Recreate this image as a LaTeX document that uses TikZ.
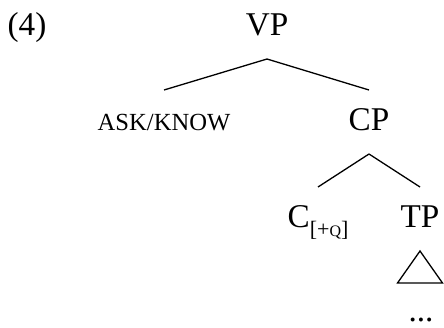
\documentclass[tikz,border=0pt]{standalone}
\usepackage{fontspec}
\setmainfont{Liberation Serif}
\newcommand{\fakesc}[1]{{\fontsize{12.3pt}{14pt}\selectfont #1}}
\begin{document}
\begin{tikzpicture}[x=0.5pt,y=-0.5pt,
  treenode/.style={inner sep=0pt,outer sep=0pt,text height=20pt,text depth=12pt,font=\fontsize{16.6pt}{20pt}\selectfont},
  branch/.style={line width=0.65pt}]
\useasboundingbox (0,0) rectangle (444,327);
\node[anchor=base,inner sep=0pt,font=\fontsize{16.6pt}{20pt}\selectfont] (ex) at (27,35) {(4)};
\node[treenode,anchor=base] (VP) at (267,35) {VP};
\node[treenode,anchor=base] (ask) at (164,130) {\fakesc{ASK/KNOW}};
\node[treenode,anchor=base] (CP) at (369,130) {CP};
\node[treenode,anchor=base] (C) at (318,227) {C\raisebox{-0.3em}{\fontsize{11pt}{12pt}\selectfont[+{\fontsize{8pt}{9pt}\selectfont Q}]}};
\node[treenode,anchor=base] (TP) at (420,227) {TP};
\node[anchor=base,inner sep=0pt,font=\fontsize{16.6pt}{20pt}\selectfont] (dots) at (421,321) {...};
\draw[branch] (VP.south) -- (ask.north);
\draw[branch] (VP.south) -- (CP.north);
\draw[branch] (CP.south) -- (C.north);
\draw[branch] (CP.south) -- (TP.north);
\draw[branch,line join=miter] (TP.south) -- ++(-22.5,32) -- ++(45,0) -- cycle;
\end{tikzpicture}
\end{document}
